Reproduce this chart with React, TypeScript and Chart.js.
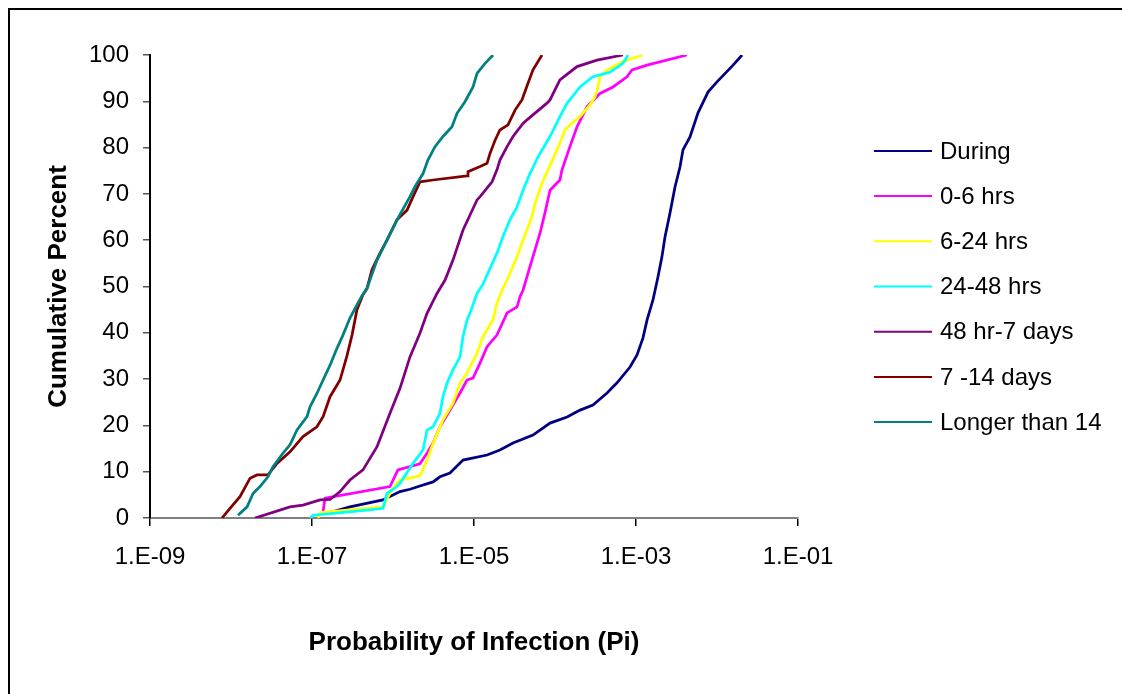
import React, { useEffect, useRef } from "react";
import { Chart, registerables } from "chart.js";

Chart.register(...registerables);

const seriesNames = ["During", "0-6 hrs", "6-24 hrs", "24-48 hrs", "48 hr-7 days", "7 -14 days", "Longer than 14"];
const seriesColors = ["#000080", "#FF00FF", "#FFFF00", "#00FFFF", "#800080", "#800000", "#008080"];

const xTickValues = [1e-9, 1e-7, 1e-5, 1e-3, 1e-1];
const xTickLabels = ["1.E-09", "1.E-07", "1.E-05", "1.E-03", "1.E-01"];
const xTitle = "Probability of Infection (Pi)";
const yTitle = "Cumulative Percent";

const duringX = [1.53e-7, 2.94e-7, 7.52e-7, 1.22e-6, 1.62e-6, 2.15e-6, 3.12e-6, 3.80e-6, 5.05e-6, 7.32e-6, 1.45e-5, 2.09e-5, 3.03e-5, 5.35e-5, 8.68e-5, 1.41e-4, 2.04e-4, 2.94e-4, 4.39e-4, 5.83e-4, 8.43e-4, 1.03e-3, 1.22e-3, 1.37e-3, 1.62e-3, 1.87e-3, 2.09e-3, 2.28e-3, 2.63e-3, 3.03e-3, 3.49e-3, 3.80e-3, 4.64e-3, 5.83e-3, 7.74e-3, 1.0e-2, 1.58e-2, 2.04e-2];
const duringY = [1.0, 2.4, 3.9, 5.7, 6.2, 6.9, 7.8, 8.9, 9.7, 12.5, 13.6, 14.7, 16.2, 17.9, 20.5, 21.8, 23.3, 24.4, 27, 29.2, 32.6, 35.2, 38.9, 42.8, 47.1, 52.1, 56.4, 60.7, 65.9, 71.5, 75.8, 79.5, 82.3, 87.5, 92, 94.2, 97.8, 100];

const hrs0to6X = [1.37e-7, 1.45e-7, 9.18e-7, 1.15e-6, 2.15e-6, 2.63e-6, 3.12e-6, 3.80e-6, 5.05e-6, 6.72e-6, 8.20e-6, 9.72e-6, 1.19e-5, 1.45e-5, 1.92e-5, 2.56e-5, 3.40e-5, 3.70e-5, 4.03e-5, 4.91e-5, 6.53e-5, 7.52e-5, 8.68e-5, 1.15e-4, 1.22e-4, 1.53e-4, 1.87e-4, 2.48e-4, 3.59e-4, 5.20e-4, 7.74e-4, 8.93e-4, 1.37e-3, 4.26e-3];
const hrs0to6Y = [1.4, 4.3, 6.8, 10.4, 11.7, 14, 16.2, 19.7, 23.3, 27, 29.8, 30.2, 33.5, 37, 39.5, 44.3, 45.6, 47.8, 49.2, 54.3, 61.5, 65.9, 70.8, 73, 75.2, 80.2, 84.5, 88.8, 91.7, 93.1, 95.3, 96.8, 97.8, 100];

const hrs6to24X = [1.19e-7, 1.26e-7, 7.52e-7, 8.68e-7, 1.0e-6, 1.22e-6, 2.15e-6, 2.63e-6, 3.12e-6, 4.14e-6, 5.50e-6, 6.72e-6, 8.20e-6, 1.09e-5, 1.29e-5, 1.72e-5, 1.92e-5, 2.22e-5, 2.56e-5, 3.40e-5, 4.03e-5, 5.20e-5, 5.66e-5, 6.91e-5, 1.06e-4, 1.33e-4, 1.53e-4, 2.04e-4, 2.70e-4, 3.12e-4, 3.40e-4, 3.59e-4, 4.39e-4, 6.91e-4, 1.22e-3];
const hrs6to24Y = [0, 1.2, 2.4, 4.5, 6.5, 8.2, 9.1, 12.5, 16.1, 21.2, 24.8, 29.1, 31.3, 35.6, 39.2, 42.8, 46.4, 49.2, 51.4, 56.4, 60, 65.1, 67.9, 72.3, 79.5, 83.8, 84.9, 86.7, 89.2, 91, 93.1, 95.3, 96.8, 98.6, 100];

const hrs24to48X = [9.45e-8, 1.03e-7, 1.37e-7, 4.78e-7, 7.52e-7, 8.43e-7, 1.12e-6, 1.22e-6, 1.77e-6, 2.35e-6, 2.63e-6, 3.12e-6, 3.80e-6, 4.14e-6, 4.64e-6, 5.50e-6, 6.72e-6, 7.32e-6, 8.20e-6, 8.93e-6, 1.09e-5, 1.29e-5, 1.92e-5, 2.28e-5, 2.78e-5, 3.40e-5, 4.03e-5, 4.91e-5, 6.17e-5, 8.68e-5, 1.15e-4, 1.41e-4, 2.04e-4, 2.94e-4, 4.78e-4, 6.91e-4, 7.96e-4];
const hrs24to48Y = [0, 0.6, 0.8, 1.7, 2.1, 5.3, 6.8, 7.5, 11.8, 14.7, 19, 19.7, 22.6, 26.2, 29.1, 32, 34.8, 39.2, 42.8, 44.2, 48.5, 50.5, 57.2, 60.8, 64.4, 67.2, 70.8, 74.4, 78, 82.4, 86.7, 89.6, 93.1, 95.3, 96.3, 98.2, 100];

const hr48to7dX = [1.98e-8, 5.35e-8, 7.74e-8, 1.26e-7, 1.67e-7, 2.22e-7, 2.94e-7, 4.26e-7, 6.35e-7, 9.18e-7, 1.22e-6, 1.62e-6, 2.15e-6, 2.63e-6, 3.49e-6, 4.39e-6, 5.50e-6, 7.32e-6, 1.09e-5, 1.19e-5, 1.67e-5, 1.92e-5, 2.09e-5, 2.56e-5, 3.03e-5, 4.03e-5, 4.51e-5, 7.96e-5, 8.68e-5, 1.15e-4, 1.87e-4, 3.30e-4, 6.91e-4];
const hr48to7dY = [0, 2.4, 2.8, 3.9, 4, 5.7, 8.2, 10.4, 15.4, 22.6, 28, 34.8, 39.9, 44.2, 48.5, 51.4, 55.7, 62.2, 68.7, 69.4, 72.6, 75.2, 77.3, 80.2, 82.4, 85.2, 86, 89.6, 90.3, 94.6, 97.5, 98.9, 100];

const days7to14X = [7.74e-9, 9.72e-9, 1.29e-8, 1.72e-8, 2.09e-8, 2.86e-8, 3.70e-8, 5.35e-8, 7.74e-8, 1.15e-7, 1.37e-7, 1.67e-7, 2.22e-7, 2.70e-7, 3.12e-7, 3.59e-7, 4.26e-7, 4.78e-7, 5.50e-7, 6.91e-7, 8.43e-7, 1.12e-6, 1.49e-6, 1.77e-6, 2.15e-6, 3.12e-6, 8.20e-6, 8.43e-6, 1.19e-5, 1.45e-5, 1.58e-5, 1.82e-5, 2.09e-5, 2.63e-5, 3.21e-5, 3.91e-5, 4.64e-5, 5.35e-5, 6.91e-5];
const days7to14Y = [0, 2.1, 4.6, 8.6, 9.3, 9.3, 11.8, 14.3, 17.6, 19.7, 21.9, 26.2, 29.8, 35, 39.5, 45, 48.2, 49.6, 53.6, 57.2, 60, 64.4, 66.5, 69.4, 72.6, 73, 73.9, 74.8, 75.9, 76.6, 78.8, 81.6, 83.8, 84.9, 88.1, 90.3, 93.9, 96.8, 100];

const longerX = [1.22e-8, 1.58e-8, 1.87e-8, 2.28e-8, 2.86e-8, 3.30e-8, 4.39e-8, 5.35e-8, 6.53e-8, 8.68e-8, 9.45e-8, 1.15e-7, 1.37e-7, 1.67e-7, 2.04e-7, 2.41e-7, 2.94e-7, 3.59e-7, 4.14e-7, 4.78e-7, 6.35e-7, 8.43e-7, 1.12e-6, 1.62e-6, 1.87e-6, 2.35e-6, 2.70e-6, 3.30e-6, 4.14e-6, 5.35e-6, 6.17e-6, 7.74e-6, 9.72e-6, 1.09e-5, 1.37e-5, 1.72e-5];
const longerY = [0.6, 2.4, 5.3, 6.8, 8.9, 11.1, 14, 15.8, 19, 21.9, 24, 26.9, 29.8, 33, 36.7, 39.5, 43.2, 46, 48, 49.6, 55.7, 60, 64.4, 69.4, 71.6, 74.4, 77.3, 80.2, 82.4, 84.5, 87.4, 89.9, 93.1, 96, 98.2, 100];

const seriesX = [duringX, hrs0to6X, hrs6to24X, hrs24to48X, hr48to7dX, days7to14X, longerX];
const seriesY = [duringY, hrs0to6Y, hrs6to24Y, hrs24to48Y, hr48to7dY, days7to14Y, longerY];

const FONT = '"Liberation Sans", Arial, Helvetica, sans-serif';

export default function App() {
  const ref = useRef<HTMLCanvasElement>(null);

  useEffect(() => {
    const canvas = ref.current;
    if (!canvas) return;

    const datasets = seriesNames.map((name, i) => ({
      label: name,
      data: seriesX[i].map((x, j) => ({ x, y: seriesY[i][j] })),
      borderColor: seriesColors[i],
      backgroundColor: seriesColors[i],
      borderWidth: 2.75,
      pointRadius: 0,
      pointHoverRadius: 0,
      showLine: true,
      tension: 0,
      order: seriesNames.length - 1 - i,
    }));

    const frameAndLegend = {
      id: "frameAndLegend",
      beforeDraw(chart: any) {
        const { ctx, width, height } = chart;
        ctx.save();
        ctx.fillStyle = "#fff";
        ctx.fillRect(0, 0, width, height);
        ctx.fillStyle = "#000";
        ctx.fillRect(0, 0, width, 2);
        ctx.fillRect(0, 0, 2, height);
        ctx.restore();
      },
      afterDraw(chart: any) {
        const { ctx, chartArea } = chart;
        const cy = (chartArea.top + chartArea.bottom) / 2;
        const x0 = chartArea.right + 76;
        ctx.save();
        ctx.font = `24px ${FONT}`;
        ctx.textBaseline = "middle";
        ctx.textAlign = "left";
        seriesNames.forEach((name, i) => {
          const y = cy + (i - 3) * 45.2;
          ctx.strokeStyle = seriesColors[i];
          ctx.lineWidth = 2;
          ctx.beginPath();
          ctx.moveTo(x0, y);
          ctx.lineTo(x0 + 58, y);
          ctx.stroke();
          ctx.fillStyle = "#000";
          ctx.fillText(name, x0 + 66, y + 1);
        });
        ctx.restore();
      },
    };

    const chart = new Chart(canvas, {
      type: "scatter",
      data: { datasets },
      plugins: [frameAndLegend],
      options: {
        animation: false,
        responsive: false,
        maintainAspectRatio: false,
        layout: { padding: { top: 47, right: 316, left: 0, bottom: 0 } },
        plugins: {
          legend: { display: false },
          tooltip: { enabled: false },
        },
        scales: {
          x: {
            type: "logarithmic",
            min: 1e-9,
            max: 1e-1,
            afterBuildTicks: (s: any) => {
              s.ticks = xTickValues.map((v) => ({ value: v }));
            },
            afterFit: (s: any) => {
              s.height = 168;
            },
            ticks: {
              callback: (_v: any, i: number) => xTickLabels[i],
              color: "#000",
              font: { size: 24, family: FONT },
              padding: 17,
              maxRotation: 0,
              autoSkip: false,
            },
            grid: { drawOnChartArea: false, drawTicks: true, tickLength: 8, color: "#000", lineWidth: 1.5 },
            border: { display: true, color: "#808080", width: 2 },
            title: {
              display: true,
              text: xTitle,
              color: "#000",
              font: { size: 26, weight: "bold", family: FONT },
              padding: { top: 0, bottom: 28 },
            },
          },
          y: {
            min: 0,
            max: 100,
            afterFit: (s: any) => {
              s.width = 142;
            },
            ticks: {
              stepSize: 10,
              color: "#000",
              font: { size: 24, family: FONT },
              padding: 14,
            },
            grid: { drawOnChartArea: false, drawTicks: true, tickLength: 7, color: "#555", lineWidth: 1.5 },
            border: { display: true, color: "#000", width: 2 },
            title: {
              display: true,
              text: yTitle,
              color: "#000",
              font: { size: 26, weight: "bold", family: FONT },
              padding: { top: 35, bottom: 0 },
            },
          },
        },
      },
    } as any);

    return () => chart.destroy();
  }, []);

  return (
    <div style={{ position: "relative", width: 1106, height: 678 }}>
      <canvas ref={ref} width={1106} height={678} style={{ display: "block" }} />
      <div
        style={{
          position: "fixed",
          left: 8,
          top: 8,
          width: 2000,
          height: 2000,
          borderTop: "2px solid #000",
          borderLeft: "2px solid #000",
          pointerEvents: "none",
        }}
      />
    </div>
  );
}
